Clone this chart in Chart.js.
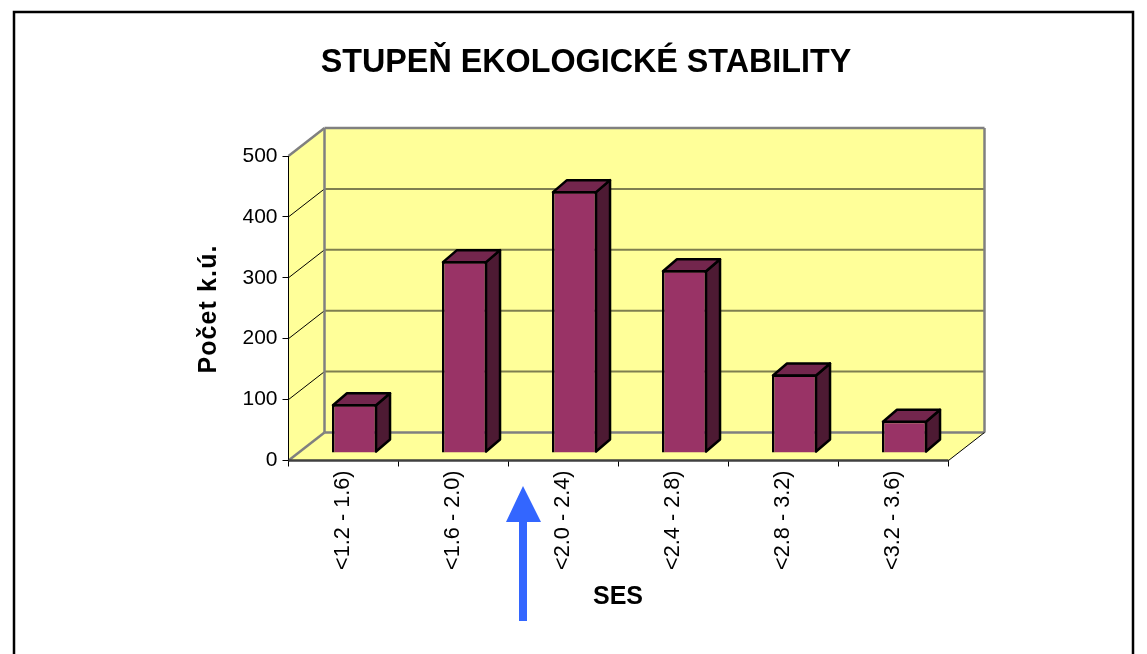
<!DOCTYPE html>
<html><head><meta charset="utf-8">
<style>html,body{margin:0;padding:0;background:#fff;overflow:hidden}#w{position:absolute;left:0;top:0;width:1147px;height:654px}</style>
<script src="https://cdn.jsdelivr.net/npm/chart.js@4"></script></head>
<body><div id="w"><canvas id="c" width="1147" height="654"></canvas></div>
<script>
const categories=['<1.2 - 1.6)','<1.6 - 2.0)','<2.0 - 2.4)','<2.4 - 2.8)','<2.8 - 3.2)','<3.2 - 3.6)'];
const values=[80,315,430,300,129,53];
const yTicks=[0,100,200,300,400,500];
const WALL=[36,-28], BAR=[11,-7.5], SIDE=[14,-12];
const FONT='"Liberation Sans", Arial, sans-serif';
function poly(ctx,pts,fill,stroke,lw){ctx.beginPath();pts.forEach((p,i)=>i?ctx.lineTo(p[0],p[1]):ctx.moveTo(p[0],p[1]));ctx.closePath();if(fill){ctx.fillStyle=fill;ctx.fill();}if(stroke){ctx.strokeStyle=stroke;ctx.lineWidth=lw;ctx.stroke();}}
function line(ctx,a,b,col,lw){ctx.beginPath();ctx.moveTo(a[0],a[1]);ctx.lineTo(b[0],b[1]);ctx.strokeStyle=col;ctx.lineWidth=lw;ctx.stroke();}
const scene={id:'scene',
 beforeDraw(ch){const ctx=ch.ctx,{left:l,right:r,top:t,bottom:b}=ch.chartArea,[dx,dy]=WALL;
  ctx.save();
  ctx.fillStyle='#fff';ctx.fillRect(0,0,ch.width,ch.height);
  ctx.strokeStyle='#000';ctx.lineWidth=2.5;ctx.beginPath();ctx.moveTo(14,654);ctx.lineTo(14,12);ctx.lineTo(1133,12);ctx.lineTo(1133,654);ctx.stroke();
  poly(ctx,[[l,b],[l,t],[l+dx,t+dy],[r+dx,t+dy],[r+dx,b+dy],[r,b]],'#ffff99');
  const y=ch.scales.y;
  yTicks.forEach(v=>{const p=y.getPixelForValue(v);
   if(v>0&&v<500){line(ctx,[l+dx,p+dy],[r+dx,p+dy],'#7f7f50',2);line(ctx,[l,p],[l+dx,p+dy],'#000',1);}
  });
  line(ctx,[l,b],[l+dx,b+dy],'#808080',2.5);
  line(ctx,[l+dx,b+dy],[r+dx,b+dy],'#808080',2.5);
  line(ctx,[l,t],[l+dx,t+dy],'#808080',2.5);
  line(ctx,[l+dx,t+dy],[l+dx,b+dy],'#808080',2.5);
  line(ctx,[l+dx,t+dy],[r+dx,t+dy],'#808080',2.5);
  line(ctx,[r+dx,t+dy],[r+dx,b+dy],'#808080',2.5);
  line(ctx,[r,b],[r+dx,b+dy],'#000',1);
  ctx.restore();},
 beforeDatasetDraw(ch){const ctx=ch.ctx;ctx.save();ctx.translate(BAR[0],BAR[1]);
  ch.getDatasetMeta(0).data.forEach(el=>{const{x,y,base,width}=el.getProps(['x','y','base','width'],false);
   const L=x-width/2+1,R=x+width/2-1,Y=y+1,B=base-1,[sx,sy]=SIDE;
   ctx.lineJoin='round';
   poly(ctx,[[R,Y],[R+sx,Y+sy],[R+sx,B+sy],[R,B]],'#4d1a33','#000',2.5);
   poly(ctx,[[L,Y],[L+sx,Y+sy],[R+sx,Y+sy],[R,Y]],'#73264d','#000',2.5);
  });},
 afterDatasetDraw(ch){ch.ctx.restore();},
 afterDraw(ch){const ctx=ch.ctx,{left:l,right:r,bottom:b}=ch.chartArea;ctx.save();
  line(ctx,[l,b],[r,b],'#404040',2.5);
  poly(ctx,[[523,486],[541,522],[527,522],[527,621],[519,621],[519,522],[506,522]],'#3366ff');
  ctx.fillStyle='#000';ctx.textAlign='center';ctx.textBaseline='middle';
  ctx.font='bold 32.3px '+FONT;ctx.fillText('STUPEŇ EKOLOGICKÉ STABILITY',586,63);
  ctx.font='bold 25px '+FONT;ctx.fillText('SES',618,597);
  ctx.font='bold 25px '+FONT;ctx.letterSpacing='1.1px';
  ctx.translate(209,309);ctx.rotate(-Math.PI/2);ctx.fillText('Počet k.ú.',0,0);
  ctx.restore();}
};
new Chart(document.getElementById('c'),{type:'bar',
 data:{labels:categories,datasets:[{data:values,backgroundColor:'#993366',borderColor:'#000',borderWidth:2.5,barPercentage:0.64,categoryPercentage:0.64}]},
 plugins:[scene],
 options:{responsive:false,animation:false,
  layout:{padding:{left:188.5,right:198.5,top:156,bottom:83.5}},
  plugins:{legend:{display:false},tooltip:{enabled:false},title:{display:false}},
  scales:{
   x:{afterFit(s){s.height=110;},grid:{display:true,drawOnChartArea:false,drawTicks:true,tickLength:6,color:'#000',offset:true},border:{display:true,color:'#000'},
      ticks:{color:'#000',font:{family:FONT,size:21.7},minRotation:90,maxRotation:90,padding:4,autoSkip:false}},
   y:{afterFit(s){s.width=100;},min:0,max:500,afterBuildTicks(s){s.ticks=yTicks.map(v=>({value:v}));},
      grid:{drawOnChartArea:false,tickLength:6,color:'#000'},border:{display:true,color:'#000'},
      ticks:{color:'#000',font:{family:FONT,size:21},padding:5}}
  }}
});
</script></body></html>
